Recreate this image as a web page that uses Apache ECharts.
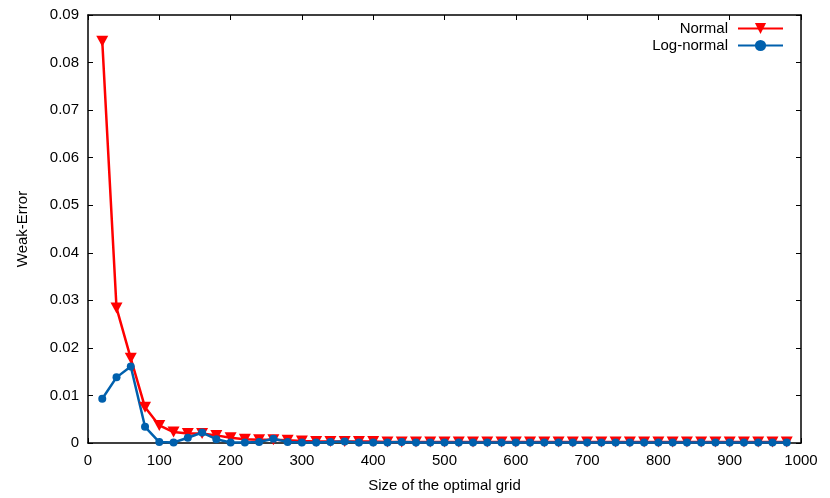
<!DOCTYPE html>
<html>
<head>
<meta charset="utf-8">
<script src="https://cdn.jsdelivr.net/npm/echarts@6/dist/echarts.min.js"></script>
<style>
html, body { margin: 0; padding: 0; background: #fff; }
#chart { width: 830px; height: 498px; }
</style>
</head>
<body>
<div id="chart"></div>
<script>
// grid sizes 20..980
const gridSizes = [20, 40, 60, 80, 100, 120, 140, 160, 180, 200,
  220, 240, 260, 280, 300, 320, 340, 360, 380, 400,
  420, 440, 460, 480, 500, 520, 540, 560, 580, 600,
  620, 640, 660, 680, 700, 720, 740, 760, 780, 800,
  820, 840, 860, 880, 900, 920, 940, 960, 980]

const normalErr = [0.0845, 0.0284, 0.0178, 0.0075, 0.0037, 0.0023, 0.0020, 0.0020, 0.0016, 0.0011,
  0.0008, 0.0007, 0.0007, 0.0006, 0.0004, 0.0003, 0.0003, 0.0003, 0.0003, 0.0003,
  0.0002, 0.0002, 0.0002, 0.0002, 0.0002, 0.0002, 0.0002, 0.0002, 0.0002, 0.0002,
  0.0002, 0.0002, 0.0002, 0.0002, 0.0002, 0.0002, 0.0002, 0.0002, 0.0002, 0.0002,
  0.0002, 0.0002, 0.0002, 0.0002, 0.0002, 0.0002, 0.0002, 0.0002, 0.0002]

const logNormalErr = [0.0093, 0.0138, 0.0161, 0.0034, 0.0002, 0.0001, 0.0011, 0.0022, 0.0008, 0.0001,
  0.0001, 0.0002, 0.0009, 0.0002, 0.0001, 0.0001, 0.0002, 0.0003, 0.0001, 0.0001,
  0.0001, 0.0002, 0.0001, 0.0001, 0.0001, 0.0001, 0.0001, 0.0001, 0.0001, 0.0001,
  0.0001, 0.0001, 0.0001, 0.0001, 0.0001, 0.0001, 0.0001, 0.0001, 0.0001, 0.0001,
  0.0001, 0.0001, 0.0001, 0.0001, 0.0001, 0.0001, 0.0001, 0.0001, 0.0001]

const font = 'Liberation Sans'
const fs = 15
const tickInside = { show: true, inside: true, length: 5, lineStyle: { color: '#000', width: 1 } }

const myChart = echarts.init(document.getElementById('chart'))

const option = {
  animation: false,
  textStyle: { fontFamily: font, color: '#000' },
  grid: { left: 88, right: 29, top: 15, bottom: 52 },
  legend: {
    right: 46,
    top: 21,
    padding: 0,
    orient: 'vertical',
    align: 'right',
    itemWidth: 45,
    itemHeight: 14,
    itemGap: 2,
    textStyle: { fontFamily: font, fontSize: fs, color: '#000', padding: [0, 5, 0, 0] },
    data: ['Normal', 'Log-normal']
  },
  xAxis: [{
    type: 'value',
    min: 0, max: 1000, interval: 100,
    name: 'Size of the optimal grid',
    nameLocation: 'middle',
    nameGap: 35,
    nameTextStyle: { fontFamily: font, fontSize: fs, color: '#000' },
    axisLine: { show: true, onZero: false, lineStyle: { color: '#000', width: 1.5 } },
    axisTick: tickInside,
    axisLabel: { fontFamily: font, fontSize: fs, color: '#000', margin: 10, formatter: v => String(v) },
    splitLine: { show: false }
  }, {
    type: 'value',
    position: 'top',
    min: 0, max: 1000, interval: 100,
    axisLine: { show: true, onZero: false, lineStyle: { color: '#000', width: 1.5 } },
    axisTick: tickInside,
    axisLabel: { show: false },
    splitLine: { show: false }
  }],
  yAxis: [{
    type: 'value',
    min: 0, max: 0.09, interval: 0.01,
    name: 'Weak-Error',
    nameLocation: 'middle',
    nameGap: 58,
    nameTextStyle: { fontFamily: font, fontSize: fs, color: '#000' },
    axisLine: { show: true, onZero: false, lineStyle: { color: '#000', width: 1.5 } },
    axisTick: tickInside,
    axisLabel: {
      fontFamily: font, fontSize: fs, color: '#000', margin: 9,
      formatter: v => v === 0 ? '0' : v.toFixed(2)
    },
    splitLine: { show: false }
  }, {
    type: 'value',
    position: 'right',
    min: 0, max: 0.09, interval: 0.01,
    axisLine: { show: true, onZero: false, lineStyle: { color: '#000', width: 1.5 } },
    axisTick: tickInside,
    axisLabel: { show: false },
    splitLine: { show: false }
  }],
  series: [
    {
      name: 'Normal',
      type: 'line',
      data: gridSizes.map((x, i) => [x, normalErr[i]]),
      color: '#ff0000',
      lineStyle: { width: 2.5 },
      symbol: 'triangle',
      symbolRotate: 180,
      symbolSize: [12, 11],
      itemStyle: { color: '#ff0000' }
    },
    {
      name: 'Log-normal',
      type: 'line',
      data: gridSizes.map((x, i) => [x, logNormalErr[i]]),
      color: '#0060ad',
      lineStyle: { width: 2.5 },
      symbol: 'circle',
      symbolSize: 8,
      itemStyle: { color: '#0060ad' }
    }
  ]
}
myChart.setOption(option)
</script>
</body>
</html>
